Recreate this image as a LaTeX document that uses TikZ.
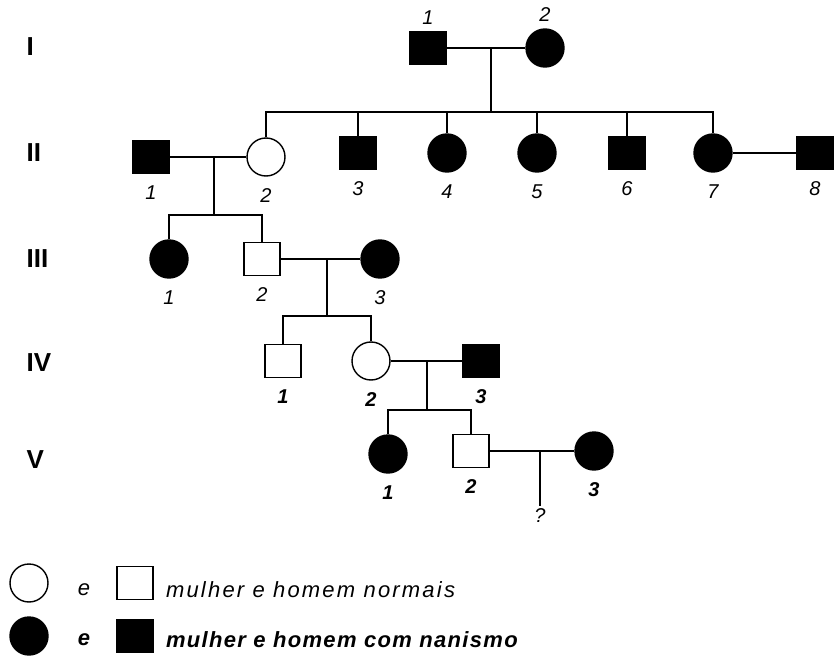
\documentclass[tikz,border=0pt]{standalone}
\usepackage{fontspec}
\setmainfont{Liberation Sans}
\begin{document}
\begin{tikzpicture}[x=1pt,y=-1pt,line width=1.4pt,
	fem/.style={draw,shape=circle,minimum size=38pt,inner sep=0pt},
	masc/.style={draw,shape=rectangle,minimum width=36pt,minimum height=33pt,inner sep=0pt},
	aff/.style={fill=black},
	num/.style={font=\fontsize{20}{24}\selectfont\itshape},
	bnum/.style={font=\fontsize{20}{24}\selectfont\bfseries\itshape},
	gen/.style={font=\fontsize{26}{30}\selectfont\bfseries,anchor=west,inner sep=0pt},
	every label/.style={num,inner sep=0pt},
	label distance=11pt]
	\useasboundingbox (0,0) rectangle (836,658);
	
	\node[gen] (gA) at (26,47) {I};
	\node[gen] (gB) at (26,153) {II};
	\node[gen] (gC) at (26,259) {III};
	\node[gen] (gD) at (26,363) {IV};
	\node[gen] (gE) at (26,460) {V};
	
	\node[masc,aff, label={[label distance=6pt]above:{1}}] (AA) at (428,48) {};
	\node[fem,aff, label={[label distance=6pt]above:{2}}] (AB) at (545,48) {};
	
	\node[masc,aff, label=below:{1}] (BA) at (151,157) {};
	\node[fem, label=below:{2}] (BB) at (266,157) {};
	\node[masc,aff, label=below:{3}] (BC) at (358,153) {};
	\node[fem,aff, label=below:{4}] (BD) at (447,153) {};
	\node[fem,aff, label=below:{5}] (BE) at (537,153) {};
	\node[masc,aff, label=below:{6}] (BF) at (627,153) {};
	\node[fem,aff, label=below:{7}] (BG) at (713,153) {};
	\node[masc,aff, label=below:{8}] (BH) at (815,153) {};
	
	\node[fem,aff, label=below:{1}] (CA) at (169,259) {};
	\node[masc, label=below:{2}] (CB) at (262,259) {};
	\node[fem,aff, label=below:{3}] (CC) at (380,259) {};
	
	\node[masc, label={[bnum]below:{1}}] (DA) at (283,361) {};
	\node[fem, label={[bnum]below:{2}}] (DB) at (371,361) {};
	\node[masc,aff, label={[bnum]below:{3}}] (DC) at (481,361) {};
	
	\node[fem,aff, label={[bnum]below:{1}}] (EA) at (388,454) {};
	\node[masc, label={[bnum]below:{2}}] (EB) at (471,451) {};
	\node[fem,aff, label={[bnum]below:{3}}] (EC) at (594,451) {};
	\node[num,inner sep=2pt] (EQ) at (540,516) {?};
	
	% generation I
	\coordinate (mA) at (491,48);
	\coordinate (sA) at (491,112);
	\draw (AA)--(AB);
	\draw (mA)--(sA);
	\draw (BB) |- (sA) -| (BG);
	\foreach \c in {BC,BD,BE,BF}
		\draw (\c)--(\c |- sA);
	
	% generation II
	\coordinate (mB) at (214,157);
	\coordinate (sB) at (214,215);
	\draw (BA)--(BB);
	\draw (BG)--(BH);
	\draw (mB)--(sB);
	\draw (CA) |- (sB) -| (CB);
	
	% generation III
	\coordinate (mC) at (327,259);
	\coordinate (sC) at (327,316);
	\draw (CB)--(CC);
	\draw (mC)--(sC);
	\draw (DA) |- (sC) -| (DB);
	
	% generation IV
	\coordinate (mD) at (427,361);
	\coordinate (sD) at (427,410);
	\draw (DB)--(DC);
	\draw (mD)--(sD);
	\draw (EA) |- (sD) -| (EB);
	
	% generation V
	\coordinate (mE) at (540,451);
	\draw (EB)--(EC);
	\draw (mE)--(EQ);
	
	% legenda
	\node[fem] (LA) at (29,583) {};
	\node[font=\fontsize{22}{26}\selectfont\itshape] (LB) at (84,590) {e};
	\node[masc] (LC) at (135,583) {};
	\node[anchor=west,font=\fontsize{22}{26}\selectfont\itshape\addfontfeature{LetterSpace=10}] (LD) at (162,590) {mulher e homem normais};
	\node[fem,aff] (LE) at (29,636) {};
	\node[font=\fontsize{22}{26}\selectfont\bfseries\itshape] (LF) at (84,640) {e};
	\node[masc,aff] (LG) at (135,636) {};
	\node[anchor=west,font=\fontsize{22}{26}\selectfont\bfseries\itshape\addfontfeature{LetterSpace=6}] (LH) at (162,640) {mulher e homem com nanismo};
\end{tikzpicture}
\end{document}
